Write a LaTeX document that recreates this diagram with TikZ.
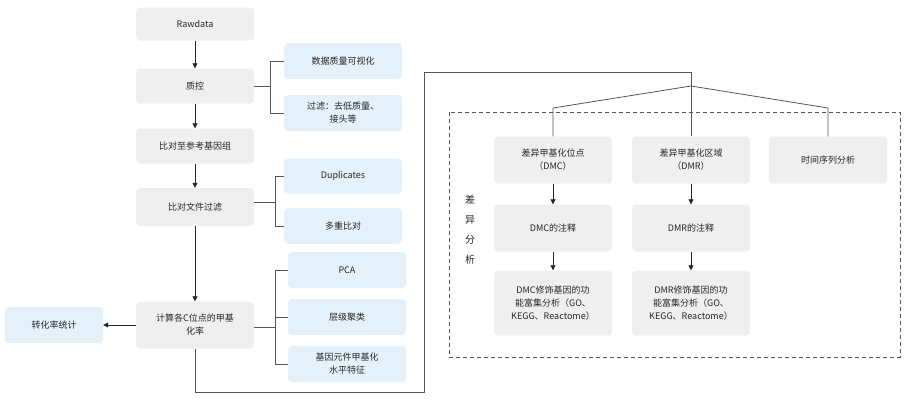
\documentclass[tikz,border=0pt]{standalone}
\usepackage{fontspec}
\setmainfont{Noto Sans CJK SC}
\usetikzlibrary{arrows.meta}
\definecolor{gbox}{HTML}{EFEFEF}
\definecolor{bbox}{HTML}{E4F1FB}
\definecolor{ln}{HTML}{555555}
\begin{document}
\begin{tikzpicture}[x=1pt,y=-1pt,
 box/.style={rounded corners=4pt,minimum width=118pt,align=center,font=\fontsize{9}{13}\selectfont,text=black!85,inner sep=2pt},
 g/.style={box,fill=gbox},
 b/.style={box,fill=bbox},
 arr/.style={-{Triangle[length=5pt,width=5pt]},line width=0.8pt,black!85},
 lnk/.style={line width=0.8pt,ln}]
\useasboundingbox (0,0) rectangle (908,402);
\node[g,minimum height=33pt] (raw) at (195,24) {Rawdata};
\node[g,minimum height=35pt] (qc) at (195,86) {质控};
\node[g,minimum height=35pt] (aln) at (195,146) {比对至参考基因组};
\node[g,minimum height=38pt] (flt) at (195,207) {比对文件过滤};
\node[g,minimum height=47pt] (calc) at (195,325) {计算各C位点的甲基\\化率};
\node[b,minimum width=98pt,minimum height=36pt] (conv) at (54,325) {转化率统计};
\node[b,minimum height=36pt] (vis) at (343,61) {数据质量可视化};
\node[b,minimum height=36pt] (flq) at (343,113) {过滤：去低质量、\\接头等};
\node[b,minimum height=35pt] (dup) at (343,176) {Duplicates};
\node[b,minimum height=36pt] (mul) at (343,226) {多重比对};
\node[b,minimum height=36pt] (pca) at (347,270) {PCA};
\node[b,minimum height=36pt] (hc) at (347,317) {层级聚类};
\node[b,minimum height=36pt] (ge) at (347,364) {基因元件甲基化\\水平特征};
\draw[arr] (raw) -- (qc);
\draw[arr] (qc) -- (aln);
\draw[arr] (aln) -- (flt);
\draw[arr] (flt) -- (calc);
\draw[arr] (calc) -- (conv);
\draw[lnk] (qc.east) -- (270,86);
\draw[lnk] (vis.west) -- (270,61) -- (270,113) -- (flq.west);
\draw[lnk] (flt.east|-0,202) -- (275,202);
\draw[lnk] (dup.west) -- (275,176) -- (275,226) -- (mul.west);
\draw[lnk] (calc.east|-0,327) -- (275,327);
\draw[lnk] (pca.west) -- (275,270) -- (275,364) -- (ge.west);
\draw[lnk] (275,317) -- (hc.west);
% right part
\draw[dashed,line width=0.8pt,ln,dash pattern=on 4pt off 3pt] (449,112) rectangle (900,357);
\node[font=\fontsize{10}{20}\selectfont,align=center,text=black!85] (lab) at (470,230) {差\\异\\分\\析};
\node[g,minimum height=47pt] (dmc) at (553,160) {差异甲基化位点\\（DMC）};
\node[g,minimum height=47pt] (dmr) at (691,160) {差异甲基化区域\\（DMR）};
\node[g,minimum height=47pt] (ts) at (828,160) {时间序列分析};
\node[g,minimum height=47pt] (dmca) at (553,228) {DMC的注释};
\node[g,minimum height=47pt] (dmra) at (691,228) {DMR的注释};
\node[g,minimum height=65pt] (dmcf) at (553,303) {DMC修饰基因的功\\能富集分析（GO、\\KEGG、Reactome）};
\node[g,minimum height=65pt] (dmrf) at (691,303) {DMR修饰基因的功\\能富集分析（GO、\\KEGG、Reactome）};
\draw[arr] (dmc) -- (dmca);
\draw[arr] (dmca) -- (dmcf);
\draw[arr] (dmr) -- (dmra);
\draw[arr] (dmra) -- (dmrf);
\coordinate (j) at (691,86);
\draw[lnk] (calc.south) -- (195,392) -- (424,392) -- (424,72) -- (691,72) -- (j);
\draw[lnk] (j) -- (dmr.north);
\draw[lnk] (j) -- (553,108) -- (dmc.north);
\draw[lnk] (j) -- (828,108) -- (ts.north);
\end{tikzpicture}
\end{document}
